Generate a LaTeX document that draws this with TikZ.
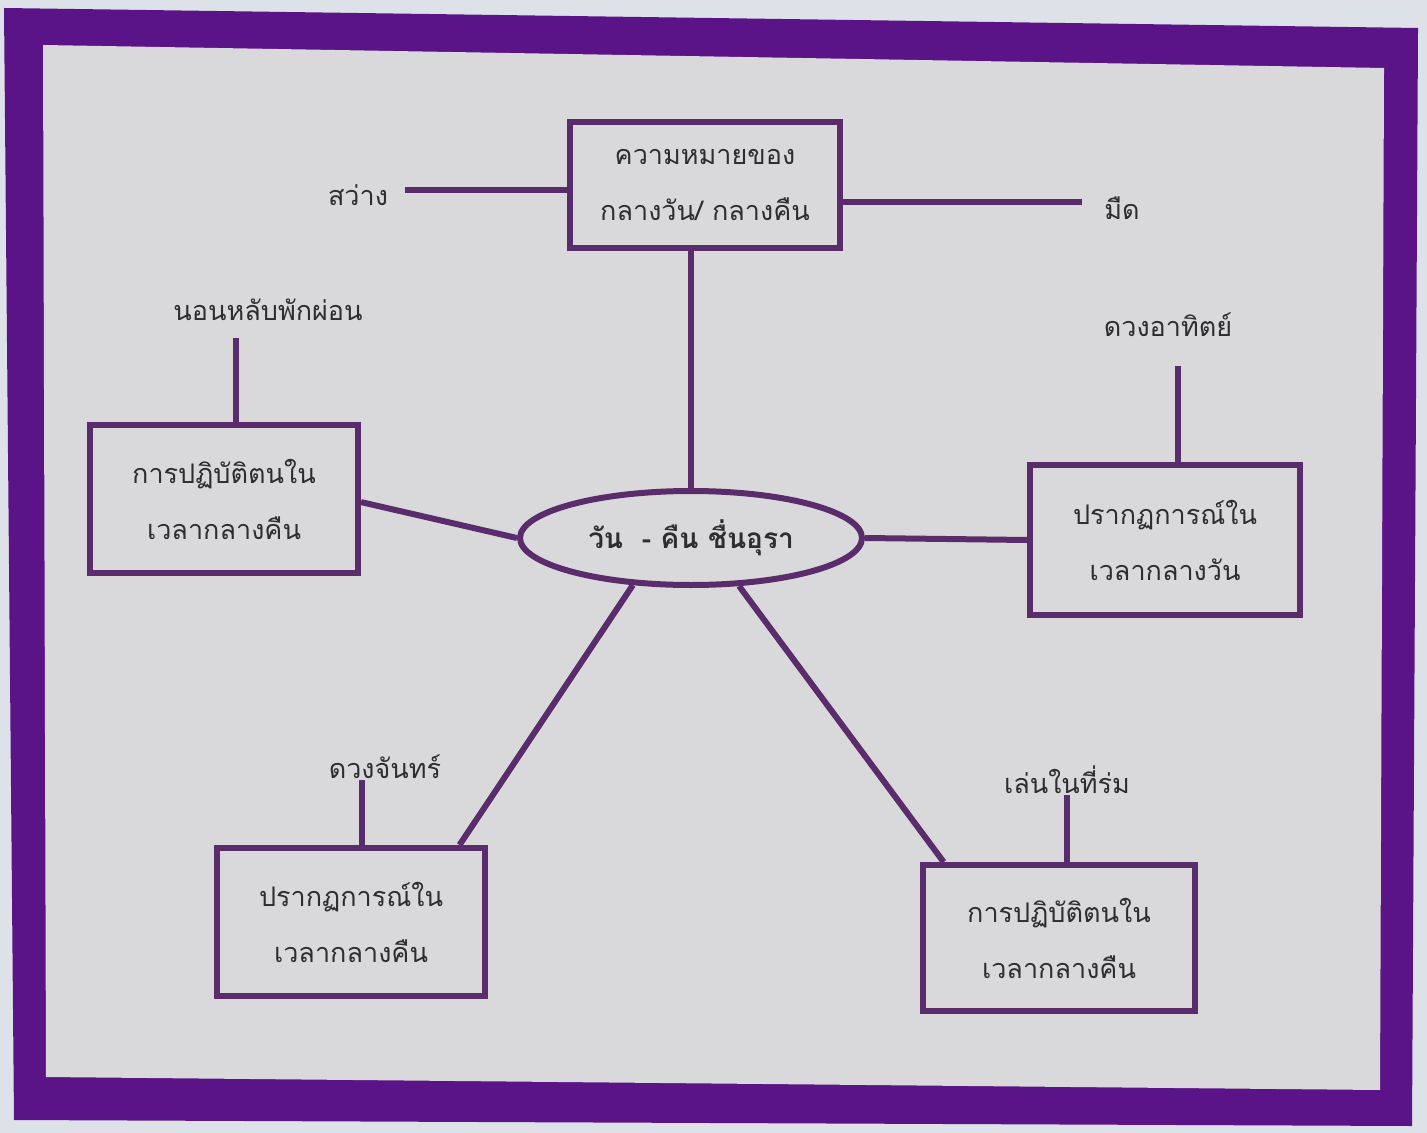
\documentclass[tikz,border=0pt]{standalone}
\usepackage{fontspec}
\newfontfamily\thaifont[Script=Thai]{Loma}
\usetikzlibrary{shapes.geometric,calc}
\definecolor{board}{HTML}{5B1488}
\definecolor{paper}{HTML}{D9D9DB}
\definecolor{wall}{HTML}{DDE1E8}
\definecolor{ink}{HTML}{5A2C6C}
\definecolor{txt}{HTML}{2E2E30}
\tikzset{
  conn/.style={draw=ink, line width=3pt},
  boxnode/.style={draw=ink, line width=3pt, rectangle, inner sep=0pt, align=center,
    font=\thaifont\fontsize{13.5}{28}\selectfont, text=txt},
  lbl/.style={font=\thaifont\fontsize{13.5}{16}\selectfont, text=txt, inner sep=1pt},
  hub/.style={draw=ink, line width=3pt, ellipse, inner sep=0pt,
    font=\thaifont\bfseries\fontsize{14}{16}\selectfont, text=txt}
}
\begin{document}
\begin{tikzpicture}[x=0.5pt,y=-0.5pt]
\useasboundingbox (0,0) rectangle (1427,1133);
\fill[wall] (0,0) rectangle (1427,1133);
\fill[board] (4,8) -- (1418,28) -- (1412,1126) -- (14,1120) -- cycle;
\fill[paper] (43,45) -- (1384,68) -- (1380,1090) -- (46,1077) -- cycle;

% hub
\node[hub, minimum width=171pt, minimum height=47pt] (hub) at (691,538) {วัน\ \ - คืน ชื่นอุรา};

% boxes
\node[boxnode, minimum width=135pt, minimum height=63pt] (top) at (705,185) {ความหมายของ\\กลางวัน/ กลางคืน};
\node[boxnode, minimum width=134pt, minimum height=74pt] (L) at (224,499) {การปฏิบัติตนใน\\เวลากลางคืน};
\node[boxnode, minimum width=135pt, minimum height=75pt] (R) at (1165,540) {ปรากฏการณ์ใน\\เวลากลางวัน};
\node[boxnode, minimum width=134pt, minimum height=74pt] (BL) at (351,922) {ปรากฏการณ์ใน\\เวลากลางคืน};
\node[boxnode, minimum width=136pt, minimum height=73pt] (BR) at (1059,938) {การปฏิบัติตนใน\\เวลากลางคืน};

% labels
\node[lbl] (light) at (358,195) {สว่าง};
\node[lbl] (dark) at (1122,208) {มืด};
\node[lbl] (sleep) at (268,310) {นอนหลับพักผ่อน};
\node[lbl] (sun) at (1168,325) {ดวงอาทิตย์};
\node[lbl] (moon) at (385,767) {ดวงจันทร์};
\node[lbl] (play) at (1067,780) {เล่นในที่ร่ม};

% free ends of stubs
\coordinate (lightend) at (405,190);
\coordinate (darkend) at (1082,202);
\coordinate (sleepend) at (236,338);
\coordinate (sunend) at (1178,366);
\coordinate (moonend) at (362,780);
\coordinate (playend) at (1067,795);

% connectors
\draw[conn] (lightend) -- (lightend -| top.west);
\draw[conn] (darkend -| top.east) -- (darkend);
\draw[conn] (hub.north) -- (hub.north |- top.south);
\draw[conn] (sleepend) -- (sleepend |- L.north);
\draw[conn] (sunend) -- (sunend |- R.north);
\draw[conn] (moonend) -- (moonend |- BL.north);
\draw[conn] (playend) -- (playend |- BR.north);
\draw[conn] ($(L.north east)!0.52!(L.south east)$) -- (hub.west);
\draw[conn] (hub.east) -- (R.west);
\draw[conn] (hub.219) -- ($(BL.north west)!0.896!(BL.north east)$);
\draw[conn] (hub.315) -- ($(BR.north west)!0.085!(BR.north east)$);
\end{tikzpicture}
\end{document}
